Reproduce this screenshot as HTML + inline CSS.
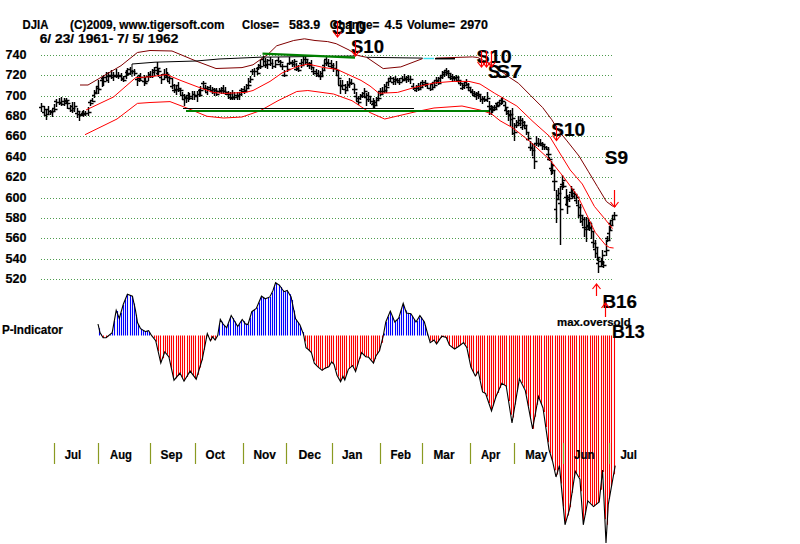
<!DOCTYPE html>
<html><head><meta charset="utf-8"><style>
html,body{margin:0;padding:0;background:#fff;}
svg{display:block;}
text{font-family:"Liberation Sans",sans-serif;font-weight:bold;fill:#000;stroke:#000;stroke-width:0.2px;}
.h{font-size:12px;}
.ax{font-size:13px;}
.sig{font-size:18px;}
.mo{font-size:11px;}
.mh{font-size:12.6px;}
</style></head><body>
<svg width="800" height="544" viewBox="0 0 800 544">
<rect width="800" height="544" fill="#fff"/>
<line x1="41" y1="55.5" x2="614" y2="55.5" stroke="#4f9c4f" stroke-width="1" stroke-dasharray="1 2"/>
<text x="5.5" y="59.2" class="ax" lengthAdjust="spacingAndGlyphs" textLength="21">740</text>
<line x1="41" y1="75.5" x2="614" y2="75.5" stroke="#4f9c4f" stroke-width="1" stroke-dasharray="1 2"/>
<text x="5.5" y="79.2" class="ax" lengthAdjust="spacingAndGlyphs" textLength="21">720</text>
<line x1="41" y1="96.5" x2="614" y2="96.5" stroke="#4f9c4f" stroke-width="1" stroke-dasharray="1 2"/>
<text x="5.5" y="100.2" class="ax" lengthAdjust="spacingAndGlyphs" textLength="21">700</text>
<line x1="41" y1="116.5" x2="614" y2="116.5" stroke="#4f9c4f" stroke-width="1" stroke-dasharray="1 2"/>
<text x="5.5" y="120.2" class="ax" lengthAdjust="spacingAndGlyphs" textLength="21">680</text>
<line x1="41" y1="136.5" x2="614" y2="136.5" stroke="#4f9c4f" stroke-width="1" stroke-dasharray="1 2"/>
<text x="5.5" y="140.2" class="ax" lengthAdjust="spacingAndGlyphs" textLength="21">660</text>
<line x1="41" y1="157.5" x2="614" y2="157.5" stroke="#4f9c4f" stroke-width="1" stroke-dasharray="1 2"/>
<text x="5.5" y="161.2" class="ax" lengthAdjust="spacingAndGlyphs" textLength="21">640</text>
<line x1="41" y1="177.5" x2="614" y2="177.5" stroke="#4f9c4f" stroke-width="1" stroke-dasharray="1 2"/>
<text x="5.5" y="181.2" class="ax" lengthAdjust="spacingAndGlyphs" textLength="21">620</text>
<line x1="41" y1="198.5" x2="614" y2="198.5" stroke="#4f9c4f" stroke-width="1" stroke-dasharray="1 2"/>
<text x="5.5" y="202.2" class="ax" lengthAdjust="spacingAndGlyphs" textLength="21">600</text>
<line x1="41" y1="218.5" x2="614" y2="218.5" stroke="#4f9c4f" stroke-width="1" stroke-dasharray="1 2"/>
<text x="5.5" y="222.2" class="ax" lengthAdjust="spacingAndGlyphs" textLength="21">580</text>
<line x1="41" y1="238.5" x2="614" y2="238.5" stroke="#4f9c4f" stroke-width="1" stroke-dasharray="1 2"/>
<text x="5.5" y="242.2" class="ax" lengthAdjust="spacingAndGlyphs" textLength="21">560</text>
<line x1="41" y1="259.5" x2="614" y2="259.5" stroke="#4f9c4f" stroke-width="1" stroke-dasharray="1 2"/>
<text x="5.5" y="263.2" class="ax" lengthAdjust="spacingAndGlyphs" textLength="21">540</text>
<line x1="41" y1="279.5" x2="614" y2="279.5" stroke="#4f9c4f" stroke-width="1" stroke-dasharray="1 2"/>
<text x="5.5" y="283.2" class="ax" lengthAdjust="spacingAndGlyphs" textLength="21">520</text>
<path d="M41.5 103V112M39 107.5h2.5M42 106.5h2.5M44.5 106V116M42 112.5h2.5M45 109.5h2.5M46.5 109V120M44 115.5h2.5M47 114.5h2.5M48.5 106V115M46 109.5h2.5M49 111.5h2.5M50.5 110V115M48 111.5h2.5M51 112.5h2.5M52.5 109V117M50 111.5h2.5M53 111.5h2.5M54.5 104V112M52 108.5h2.5M55 109.5h2.5M56.5 99V107M54 101.5h2.5M57 102.5h2.5M59.5 98V105M57 102.5h2.5M60 103.5h2.5M61.5 97V106M59 102.5h2.5M62 101.5h2.5M64.5 98V106M62 104.5h2.5M65 100.5h2.5M66.5 98V103M64 101.5h2.5M67 100.5h2.5M67.5 100V109M65 103.5h2.5M68 103.5h2.5M70.5 105V112M68 108.5h2.5M71 110.5h2.5M72.5 102V113M70 106.5h2.5M73 108.5h2.5M74.5 102V112M72 108.5h2.5M75 106.5h2.5M77.5 108V118M75 113.5h2.5M78 111.5h2.5M79.5 111V121M77 114.5h2.5M80 115.5h2.5M82.5 111V116M80 114.5h2.5M83 113.5h2.5M83.5 110V117M81 113.5h2.5M84 114.5h2.5M85.5 111V116M83 113.5h2.5M86 113.5h2.5M88.5 107V116M86 113.5h2.5M89 112.5h2.5M90.5 100V106M88 102.5h2.5M91 103.5h2.5M92.5 98V102M90 100.5h2.5M93 101.5h2.5M94.5 90V98M92 95.5h2.5M95 93.5h2.5M96.5 86V94M94 92.5h2.5M97 88.5h2.5M98.5 80V94M96 86.5h2.5M99 89.5h2.5M102.5 76V87M100 80.5h2.5M103 81.5h2.5M103.5 75V86M101 78.5h2.5M104 81.5h2.5M106.5 72V80M104 77.5h2.5M107 76.5h2.5M108.5 72V83M106 80.5h2.5M109 76.5h2.5M111.5 70V79M109 75.5h2.5M112 75.5h2.5M113.5 72V81M111 77.5h2.5M114 76.5h2.5M116.5 69V78M114 75.5h2.5M117 76.5h2.5M118.5 72V79M116 75.5h2.5M119 76.5h2.5M121.5 73V81M119 75.5h2.5M122 78.5h2.5M123.5 76V82M121 79.5h2.5M124 80.5h2.5M126.5 70V79M124 76.5h2.5M127 74.5h2.5M127.5 68V76M125 72.5h2.5M128 73.5h2.5M130.5 67V75M128 69.5h2.5M131 71.5h2.5M132.5 70V74M130 71.5h2.5M133 71.5h2.5M134.5 69V76M132 71.5h2.5M135 73.5h2.5M137.5 76V86M135 79.5h2.5M138 80.5h2.5M139.5 75V82M137 78.5h2.5M140 80.5h2.5M140.5 73V81M138 75.5h2.5M141 77.5h2.5M144.5 75V86M142 81.5h2.5M145 83.5h2.5M145.5 77V83M143 81.5h2.5M146 81.5h2.5M148.5 72V81M146 76.5h2.5M149 76.5h2.5M150.5 71V78M148 74.5h2.5M151 76.5h2.5M152.5 69V78M150 76.5h2.5M153 72.5h2.5M154.5 67V76M152 70.5h2.5M155 70.5h2.5M157.5 62V75M155 67.5h2.5M158 68.5h2.5M158.5 68V77M156 73.5h2.5M159 71.5h2.5M161.5 74V84M159 77.5h2.5M162 79.5h2.5M164.5 69V80M162 74.5h2.5M165 75.5h2.5M166.5 68V78M164 75.5h2.5M167 74.5h2.5M167.5 72V81M165 77.5h2.5M168 77.5h2.5M169.5 76V84M167 81.5h2.5M170 78.5h2.5M172.5 78V89M170 86.5h2.5M173 85.5h2.5M174.5 84V93M172 90.5h2.5M175 90.5h2.5M176.5 85V95M174 89.5h2.5M177 89.5h2.5M178.5 82V92M176 85.5h2.5M179 88.5h2.5M180.5 88V95M178 90.5h2.5M181 90.5h2.5M182.5 92V100M180 95.5h2.5M183 95.5h2.5M184.5 94V106M182 99.5h2.5M185 97.5h2.5M186.5 96V103M184 98.5h2.5M187 98.5h2.5M188.5 92V102M186 95.5h2.5M189 96.5h2.5M189.5 93V100M187 95.5h2.5M190 98.5h2.5M192.5 91V100M190 96.5h2.5M193 94.5h2.5M194.5 91V100M192 94.5h2.5M195 95.5h2.5M197.5 91V102M195 96.5h2.5M198 94.5h2.5M199.5 89V97M197 94.5h2.5M200 95.5h2.5M200.5 86V95M198 90.5h2.5M201 90.5h2.5M203.5 81V89M201 83.5h2.5M204 83.5h2.5M205.5 85V92M203 88.5h2.5M206 88.5h2.5M207.5 86V95M205 92.5h2.5M208 89.5h2.5M210.5 85V92M208 87.5h2.5M211 90.5h2.5M212.5 87V94M210 91.5h2.5M213 89.5h2.5M214.5 88V96M212 92.5h2.5M215 90.5h2.5M216.5 88V96M214 92.5h2.5M217 94.5h2.5M219.5 88V93M217 91.5h2.5M220 91.5h2.5M221.5 87V94M219 90.5h2.5M222 90.5h2.5M223.5 85V94M221 88.5h2.5M224 91.5h2.5M225.5 87V95M223 91.5h2.5M226 92.5h2.5M228.5 91V99M226 94.5h2.5M229 94.5h2.5M230.5 92V100M228 97.5h2.5M231 98.5h2.5M232.5 90V100M230 97.5h2.5M233 97.5h2.5M234.5 92V100M232 97.5h2.5M235 97.5h2.5M237.5 92V100M235 95.5h2.5M238 96.5h2.5M239.5 92V100M237 95.5h2.5M240 94.5h2.5M241.5 88V96M239 90.5h2.5M242 91.5h2.5M244.5 86V94M242 89.5h2.5M245 91.5h2.5M246.5 84V92M244 90.5h2.5M247 88.5h2.5M248.5 78V88M246 85.5h2.5M249 85.5h2.5M250.5 76V83M248 81.5h2.5M251 79.5h2.5M252.5 69V75M250 71.5h2.5M253 71.5h2.5M254.5 68V77M252 71.5h2.5M255 71.5h2.5M257.5 67V75M255 71.5h2.5M258 73.5h2.5M258.5 64V70M256 68.5h2.5M259 67.5h2.5M260.5 60V69M258 65.5h2.5M261 66.5h2.5M263.5 56V65M261 59.5h2.5M264 61.5h2.5M265.5 58V68M263 65.5h2.5M266 64.5h2.5M267.5 59V69M265 65.5h2.5M268 64.5h2.5M270.5 57V66M268 60.5h2.5M271 63.5h2.5M272.5 59V69M270 63.5h2.5M273 66.5h2.5M275.5 60V68M273 66.5h2.5M276 64.5h2.5M278.5 57V63M276 60.5h2.5M279 61.5h2.5M280.5 60V67M278 64.5h2.5M281 62.5h2.5M282.5 64V70M280 66.5h2.5M283 66.5h2.5M284.5 70V77M282 75.5h2.5M285 75.5h2.5M287.5 63V72M285 66.5h2.5M288 69.5h2.5M289.5 57V65M287 63.5h2.5M290 62.5h2.5M292.5 60V67M290 63.5h2.5M293 64.5h2.5M294.5 59V67M292 62.5h2.5M295 61.5h2.5M296.5 63V71M294 69.5h2.5M297 68.5h2.5M298.5 65V72M296 69.5h2.5M299 70.5h2.5M301.5 59V68M299 63.5h2.5M302 65.5h2.5M303.5 56V65M301 62.5h2.5M304 59.5h2.5M305.5 56V64M303 59.5h2.5M306 59.5h2.5M307.5 59V67M305 62.5h2.5M308 63.5h2.5M309.5 62V69M307 65.5h2.5M310 65.5h2.5M311.5 60V70M309 63.5h2.5M312 67.5h2.5M313.5 68V75M311 71.5h2.5M314 71.5h2.5M316.5 69V77M314 73.5h2.5M317 75.5h2.5M318.5 70V77M316 73.5h2.5M319 75.5h2.5M320.5 71V80M318 76.5h2.5M321 76.5h2.5M322.5 68V77M320 73.5h2.5M323 70.5h2.5M324.5 60V70M322 65.5h2.5M325 63.5h2.5M326.5 57V66M324 59.5h2.5M327 63.5h2.5M328.5 59V67M326 62.5h2.5M329 63.5h2.5M331.5 60V69M329 66.5h2.5M332 65.5h2.5M333.5 63V72M331 67.5h2.5M334 68.5h2.5M336.5 61V75M334 68.5h2.5M337 70.5h2.5M338.5 70V85M336 75.5h2.5M339 78.5h2.5M340.5 80V94M338 85.5h2.5M341 85.5h2.5M342.5 80V90M340 86.5h2.5M343 85.5h2.5M345.5 84V94M343 89.5h2.5M346 90.5h2.5M347.5 81V90M345 87.5h2.5M348 85.5h2.5M349.5 78V88M347 84.5h2.5M350 83.5h2.5M351.5 79V85M349 82.5h2.5M352 83.5h2.5M354.5 84V94M352 89.5h2.5M355 89.5h2.5M356.5 92V101M354 96.5h2.5M357 98.5h2.5M358.5 96V105M356 101.5h2.5M359 102.5h2.5M360.5 94V100M358 98.5h2.5M361 96.5h2.5M362.5 92V98M360 95.5h2.5M363 96.5h2.5M364.5 88V96M362 93.5h2.5M365 91.5h2.5M366.5 93V106M364 97.5h2.5M367 99.5h2.5M368.5 92V102M366 95.5h2.5M369 96.5h2.5M370.5 97V104M368 99.5h2.5M371 101.5h2.5M373.5 98V108M371 104.5h2.5M374 105.5h2.5M374.5 100V109M372 103.5h2.5M375 105.5h2.5M376.5 97V106M374 102.5h2.5M377 100.5h2.5M378.5 92V100M376 98.5h2.5M379 98.5h2.5M380.5 88V96M378 91.5h2.5M381 94.5h2.5M382.5 87V95M380 91.5h2.5M383 91.5h2.5M384.5 84V93M382 91.5h2.5M385 90.5h2.5M386.5 82V93M384 86.5h2.5M387 87.5h2.5M388.5 78V86M386 82.5h2.5M389 81.5h2.5M390.5 76V82M388 78.5h2.5M391 78.5h2.5M393.5 77V85M391 82.5h2.5M394 79.5h2.5M395.5 76V85M393 81.5h2.5M396 80.5h2.5M397.5 78V83M395 79.5h2.5M398 80.5h2.5M399.5 78V85M397 82.5h2.5M400 82.5h2.5M402.5 76V82M400 78.5h2.5M403 80.5h2.5M404.5 74V81M402 79.5h2.5M405 79.5h2.5M406.5 76V83M404 78.5h2.5M407 79.5h2.5M408.5 75V82M406 77.5h2.5M409 79.5h2.5M410.5 76V84M408 79.5h2.5M411 79.5h2.5M413.5 83V90M411 86.5h2.5M414 88.5h2.5M416.5 85V92M414 90.5h2.5M417 88.5h2.5M418.5 83V91M416 86.5h2.5M419 89.5h2.5M420.5 83V89M418 86.5h2.5M421 87.5h2.5M422.5 80V88M420 82.5h2.5M423 82.5h2.5M425.5 80V87M423 84.5h2.5M426 83.5h2.5M427.5 84V89M425 85.5h2.5M428 88.5h2.5M430.5 85V91M428 88.5h2.5M431 89.5h2.5M432.5 82V90M430 84.5h2.5M433 87.5h2.5M434.5 80V88M432 82.5h2.5M435 85.5h2.5M436.5 77V84M434 80.5h2.5M437 80.5h2.5M438.5 77V85M436 81.5h2.5M439 83.5h2.5M440.5 75V82M438 78.5h2.5M441 77.5h2.5M442.5 71V79M440 75.5h2.5M443 74.5h2.5M444.5 70V77M442 72.5h2.5M445 72.5h2.5M446.5 68V76M444 70.5h2.5M447 71.5h2.5M448.5 70V78M446 73.5h2.5M449 73.5h2.5M450.5 73V80M448 77.5h2.5M451 76.5h2.5M452.5 74V82M450 78.5h2.5M453 77.5h2.5M454.5 76V81M452 78.5h2.5M455 77.5h2.5M456.5 75V82M454 78.5h2.5M457 77.5h2.5M458.5 76V83M456 80.5h2.5M459 80.5h2.5M460.5 81V86M458 83.5h2.5M461 83.5h2.5M462.5 83V90M460 88.5h2.5M463 85.5h2.5M464.5 82V89M462 87.5h2.5M465 85.5h2.5M466.5 79V86M464 82.5h2.5M467 84.5h2.5M468.5 83V91M466 87.5h2.5M469 87.5h2.5M470.5 87V92M468 90.5h2.5M471 91.5h2.5M472.5 89V95M470 92.5h2.5M473 93.5h2.5M474.5 91V97M472 95.5h2.5M475 94.5h2.5M476.5 92V100M474 96.5h2.5M477 95.5h2.5M478.5 91V99M476 93.5h2.5M479 94.5h2.5M480.5 94V102M478 96.5h2.5M481 99.5h2.5M482.5 96V104M480 99.5h2.5M483 99.5h2.5M484.5 96V102M482 98.5h2.5M485 100.5h2.5M487.5 92V102M485 99.5h2.5M488 98.5h2.5M489.5 101V115M487 106.5h2.5M490 106.5h2.5M491.5 105V115M489 109.5h2.5M492 110.5h2.5M492.5 106V113M490 108.5h2.5M493 109.5h2.5M494.5 105V111M492 107.5h2.5M495 109.5h2.5M496.5 103V109M494 107.5h2.5M497 106.5h2.5M497.5 102V106M495 103.5h2.5M498 105.5h2.5M499.5 100V106M497 102.5h2.5M500 103.5h2.5M501.5 98V105M499 100.5h2.5M502 101.5h2.5M502.5 97V104M500 100.5h2.5M503 101.5h2.5M505.5 102V111M503 105.5h2.5M506 107.5h2.5M506.5 108V115M504 110.5h2.5M507 111.5h2.5M508.5 110V121M506 113.5h2.5M509 115.5h2.5M510.5 110V126M508 114.5h2.5M511 114.5h2.5M512.5 108V135M510 119.5h2.5M513 118.5h2.5M514.5 123V141M512 133.5h2.5M515 132.5h2.5M516.5 120V128M514 125.5h2.5M517 125.5h2.5M518.5 116V126M516 122.5h2.5M519 123.5h2.5M520.5 116V126M518 120.5h2.5M521 120.5h2.5M522.5 118V130M520 127.5h2.5M523 122.5h2.5M524.5 121V128M522 125.5h2.5M525 125.5h2.5M526.5 126V135M524 128.5h2.5M527 132.5h2.5M528.5 133V141M526 139.5h2.5M529 138.5h2.5M530.5 141V151M528 147.5h2.5M531 148.5h2.5M532.5 143V156M530 147.5h2.5M533 150.5h2.5M534.5 144V169M532 157.5h2.5M535 161.5h2.5M536.5 136V146M534 143.5h2.5M537 143.5h2.5M538.5 138V147M536 143.5h2.5M539 144.5h2.5M540.5 139V146M538 143.5h2.5M541 143.5h2.5M542.5 142V150M540 145.5h2.5M543 144.5h2.5M544.5 144V150M542 146.5h2.5M545 147.5h2.5M546.5 146V150M544 147.5h2.5M547 149.5h2.5M548.5 147V160M546 154.5h2.5M549 154.5h2.5M549.5 157V161M547 159.5h2.5M550 159.5h2.5M551.5 161V175M549 168.5h2.5M552 165.5h2.5M552.5 164V174M550 170.5h2.5M553 170.5h2.5M554.5 171V191M552 181.5h2.5M555 181.5h2.5M556.5 190V223M554 209.5h2.5M557 199.5h2.5M558.5 188V200M556 195.5h2.5M559 193.5h2.5M560.5 186V245M558 203.5h2.5M561 209.5h2.5M562.5 175V190M560 184.5h2.5M563 180.5h2.5M563.5 182V188M561 186.5h2.5M564 186.5h2.5M566.5 189V206M564 197.5h2.5M567 197.5h2.5M567.5 195V214M565 204.5h2.5M568 206.5h2.5M569.5 194V202M567 199.5h2.5M570 198.5h2.5M571.5 186V197M569 192.5h2.5M572 189.5h2.5M572.5 189V199M570 192.5h2.5M573 193.5h2.5M574.5 191V199M572 196.5h2.5M575 194.5h2.5M576.5 195V204M574 200.5h2.5M577 197.5h2.5M578.5 200V218M576 205.5h2.5M579 207.5h2.5M580.5 204V223M578 215.5h2.5M581 215.5h2.5M582.5 215V226M580 221.5h2.5M583 219.5h2.5M584.5 217V237M582 227.5h2.5M585 227.5h2.5M586.5 217V242M584 229.5h2.5M587 225.5h2.5M588.5 218V229M586 226.5h2.5M589 222.5h2.5M589.5 222V231M587 229.5h2.5M590 228.5h2.5M591.5 223V239M589 227.5h2.5M592 231.5h2.5M593.5 231V248M591 242.5h2.5M594 243.5h2.5M595.5 240V258M593 249.5h2.5M596 247.5h2.5M597.5 248V261M595 253.5h2.5M598 257.5h2.5M598.5 258V273M596 263.5h2.5M599 266.5h2.5M601.5 258V266M599 261.5h2.5M602 262.5h2.5M602.5 250V265M600 261.5h2.5M603 255.5h2.5M603.5 261V268M601 266.5h2.5M604 265.5h2.5M606.5 240V256M604 251.5h2.5M607 250.5h2.5M607.5 236V242M605 238.5h2.5M608 240.5h2.5M609.5 226V240M607 233.5h2.5M610 230.5h2.5M610.5 220V231M608 223.5h2.5M611 225.5h2.5M612.5 215V225M610 220.5h2.5M613 219.5h2.5M614.5 212V220M612 215.5h2.5M615 215.5h2.5" stroke="#000" stroke-width="1.45" fill="none"/>
<path d="M99.5 335.5V328.3M101.5 335.5V334.6M110.5 335.5V334.5M112.5 335.5V332.7M114.5 335.5V320.9M117.5 335.5V311.1M119.5 335.5V316.9M121.5 335.5V312.8M123.5 335.5V305.0M125.5 335.5V299.4M127.5 335.5V294.2M130.5 335.5V295.1M132.5 335.5V296.0M134.5 335.5V303.6M136.5 335.5V314.8M138.5 335.5V324.4M141.5 335.5V328.7M143.5 335.5V330.0M145.5 335.5V331.2M147.5 335.5V331.1M149.5 335.5V331.9M152.5 335.5V335.5M219.5 335.5V324.7M222.5 335.5V321.7M224.5 335.5V324.9M226.5 335.5V327.1M228.5 335.5V323.7M230.5 335.5V317.7M233.5 335.5V317.9M235.5 335.5V321.6M237.5 335.5V325.3M239.5 335.5V324.2M241.5 335.5V320.7M244.5 335.5V321.3M246.5 335.5V324.0M248.5 335.5V324.5M250.5 335.5V317.4M252.5 335.5V311.3M254.5 335.5V309.8M257.5 335.5V307.6M259.5 335.5V302.4M261.5 335.5V297.2M263.5 335.5V297.4M265.5 335.5V298.7M268.5 335.5V297.8M270.5 335.5V296.9M272.5 335.5V292.4M274.5 335.5V286.8M276.5 335.5V283.2M279.5 335.5V284.7M281.5 335.5V287.1M283.5 335.5V290.2M285.5 335.5V291.2M287.5 335.5V290.6M290.5 335.5V294.3M292.5 335.5V299.9M294.5 335.5V310.5M296.5 335.5V319.5M298.5 335.5V322.6M300.5 335.5V326.3M303.5 335.5V332.1M384.5 335.5V333.5M386.5 335.5V321.8M388.5 335.5V316.5M390.5 335.5V311.2M392.5 335.5V316.3M395.5 335.5V321.6M397.5 335.5V320.0M399.5 335.5V317.1M401.5 335.5V309.9M403.5 335.5V304.0M406.5 335.5V310.6M408.5 335.5V313.2M410.5 335.5V313.6M412.5 335.5V315.8M414.5 335.5V319.3M417.5 335.5V321.1M419.5 335.5V317.5M421.5 335.5V317.1M423.5 335.5V320.2M425.5 335.5V325.3M427.5 335.5V333.2" stroke="#0000ff" stroke-width="1.1"/>
<path d="M103.5 335.5V337.7M106.5 335.5V337.7M108.5 335.5V336.3M154.5 335.5V338.3M156.5 335.5V341.7M158.5 335.5V351.3M160.5 335.5V360.9M163.5 335.5V358.3M165.5 335.5V352.2M167.5 335.5V354.4M169.5 335.5V357.7M171.5 335.5V367.7M173.5 335.5V377.7M176.5 335.5V378.2M178.5 335.5V375.7M180.5 335.5V373.2M182.5 335.5V377.6M184.5 335.5V380.5M187.5 335.5V376.9M189.5 335.5V373.3M191.5 335.5V372.3M193.5 335.5V375.2M195.5 335.5V378.1M198.5 335.5V374.7M200.5 335.5V367.5M202.5 335.5V360.2M204.5 335.5V349.8M206.5 335.5V338.6M208.5 335.5V336.3M211.5 335.5V340.2M213.5 335.5V337.2M215.5 335.5V340.0M217.5 335.5V336.3M305.5 335.5V341.5M307.5 335.5V348.5M309.5 335.5V350.4M311.5 335.5V352.8M314.5 335.5V360.8M316.5 335.5V364.7M318.5 335.5V366.9M320.5 335.5V368.8M322.5 335.5V370.2M325.5 335.5V368.6M327.5 335.5V367.6M329.5 335.5V366.4M331.5 335.5V362.9M333.5 335.5V363.7M336.5 335.5V369.9M338.5 335.5V376.5M340.5 335.5V380.5M342.5 335.5V378.4M344.5 335.5V379.0M346.5 335.5V375.0M349.5 335.5V369.0M351.5 335.5V367.1M353.5 335.5V366.5M355.5 335.5V370.9M357.5 335.5V365.6M360.5 335.5V358.4M362.5 335.5V352.8M364.5 335.5V355.0M366.5 335.5V356.8M368.5 335.5V357.2M371.5 335.5V359.6M373.5 335.5V362.3M375.5 335.5V358.9M377.5 335.5V354.2M379.5 335.5V351.0M382.5 335.5V342.8M430.5 335.5V340.8M432.5 335.5V341.5M434.5 335.5V340.1M436.5 335.5V343.4M438.5 335.5V341.2M441.5 335.5V337.9M443.5 335.5V336.5M445.5 335.5V337.1M447.5 335.5V339.7M449.5 335.5V345.0M452.5 335.5V346.8M454.5 335.5V348.4M456.5 335.5V348.1M458.5 335.5V346.7M460.5 335.5V345.1M463.5 335.5V343.4M465.5 335.5V344.3M467.5 335.5V347.9M469.5 335.5V358.4M471.5 335.5V367.8M473.5 335.5V372.3M476.5 335.5V375.4M478.5 335.5V372.0M480.5 335.5V380.2M482.5 335.5V390.4M484.5 335.5V392.9M487.5 335.5V396.6M489.5 335.5V403.1M491.5 335.5V409.5M493.5 335.5V405.5M495.5 335.5V398.5M498.5 335.5V392.9M500.5 335.5V387.9M502.5 335.5V383.3M504.5 335.5V384.7M506.5 335.5V386.9M509.5 335.5V400.9M511.5 335.5V414.8M513.5 335.5V417.6M515.5 335.5V404.5M517.5 335.5V391.4M519.5 335.5V379.0M522.5 335.5V383.3M524.5 335.5V387.7M526.5 335.5V394.5M528.5 335.5V406.0M530.5 335.5V417.4M533.5 335.5V428.7M535.5 335.5V416.7M537.5 335.5V404.7M539.5 335.5V398.3M541.5 335.5V403.9M544.5 335.5V412.0M546.5 335.5V427.1M548.5 335.5V442.3M550.5 335.5V453.3M552.5 335.5V460.4M555.5 335.5V470.2M557.5 335.5V474.6M559.5 335.5V467.3M561.5 335.5V483.5M563.5 335.5V506.6M565.5 335.5V523.2M568.5 335.5V515.5M570.5 335.5V507.2M572.5 335.5V492.7M574.5 335.5V478.3M576.5 335.5V473.2M579.5 335.5V477.0M581.5 335.5V491.3M583.5 335.5V520.6M585.5 335.5V514.8M587.5 335.5V503.2M590.5 335.5V502.7M592.5 335.5V504.9M594.5 335.5V506.2M596.5 335.5V504.5M598.5 335.5V502.7M601.5 335.5V489.7M603.5 335.5V472.1M605.5 335.5V519.2M607.5 335.5V524.8M609.5 335.5V498.9M611.5 335.5V486.6M614.5 335.5V474.3" stroke="#ff0000" stroke-width="1.1"/>
<polyline points="98.0,324.0 98.5,326.2 100.0,332.6 103.1,337.7 106.1,337.7 112.2,332.6 116.2,310.4 119.3,318.5 123.3,304.3 127.4,294.2 132.4,296.2 135.5,310.4 137.5,322.5 140.5,328.6 145.6,331.6 148.6,330.6 151.7,335.7 155.7,340.7 160.8,363.0 164.8,351.9 168.9,356.9 174.0,380.2 180.0,373.1 184.0,381.2 190.1,371.1 196.2,379.2 202.3,359.0 207.3,333.6 210.4,340.7 212.6,336.8 215.1,340.0 217.7,335.5 220.3,319.4 222.9,323.9 226.7,327.8 231.2,315.5 237.7,326.5 242.2,319.4 245.4,323.9 248.0,324.5 251.8,311.7 256.3,308.5 261.5,296.2 265.3,298.8 269.8,296.9 273.0,290.4 275.6,282.7 279.5,285.3 284.0,291.7 287.2,290.4 291.1,296.9 295.6,318.8 300.0,325.0 303.6,334.6 306.0,347.7 308.4,349.5 311.4,352.5 314.3,363.2 317.9,366.8 322.1,370.4 324.5,368.6 328.7,366.8 331.7,362.0 334.0,364.4 337.0,375.2 340.6,381.8 343.0,376.4 344.8,380.0 348.4,369.2 352.6,365.6 355.6,371.6 359.2,359.7 361.6,352.5 365.7,356.7 368.7,357.3 373.5,363.2 375.9,356.0 379.5,350.7 383.2,336.2 385.8,322.0 390.3,311.1 394.8,322.0 398.7,318.2 403.2,303.4 406.4,313.0 410.9,313.7 416.0,322.0 419.9,315.6 424.4,322.0 427.6,333.6 430.2,342.6 434.0,340.0 436.6,343.9 441.8,336.2 446.3,337.5 449.5,345.2 454.6,349.0 458.5,346.5 463.6,342.6 466.9,347.8 470.9,367.0 475.3,376.0 478.2,371.5 482.6,392.0 485.6,393.5 491.5,411.0 496.0,396.5 501.8,383.2 506.2,386.0 512.0,423.0 519.4,378.8 525.3,390.6 532.6,428.8 538.5,396.5 543.0,408.0 549.0,449.6 552.5,461.0 556.0,477.0 559.4,465.6 565.0,524.8 569.6,508.8 575.3,471.3 579.9,479.2 583.3,524.8 587.8,500.9 593.5,506.6 599.2,502.0 602.6,470.0 606.0,543.0 608.3,504.3 615.2,465.6" fill="none" stroke="#000" stroke-width="1.1"/>
<line x1="54.5" y1="443" x2="54.5" y2="464" stroke="#8a9a22" stroke-width="1.2"/>
<line x1="98.5" y1="443" x2="98.5" y2="464" stroke="#8a9a22" stroke-width="1.2"/>
<line x1="150.5" y1="443" x2="150.5" y2="464" stroke="#8a9a22" stroke-width="1.2"/>
<line x1="195.5" y1="443" x2="195.5" y2="464" stroke="#8a9a22" stroke-width="1.2"/>
<line x1="243.5" y1="443" x2="243.5" y2="464" stroke="#8a9a22" stroke-width="1.2"/>
<line x1="286.5" y1="443" x2="286.5" y2="464" stroke="#8a9a22" stroke-width="1.2"/>
<line x1="332.5" y1="443" x2="332.5" y2="464" stroke="#8a9a22" stroke-width="1.2"/>
<line x1="380.5" y1="443" x2="380.5" y2="464" stroke="#8a9a22" stroke-width="1.2"/>
<line x1="422.5" y1="443" x2="422.5" y2="464" stroke="#8a9a22" stroke-width="1.2"/>
<line x1="470.5" y1="443" x2="470.5" y2="464" stroke="#8a9a22" stroke-width="1.2"/>
<line x1="514.5" y1="443" x2="514.5" y2="464" stroke="#8a9a22" stroke-width="1.2"/>
<line x1="563.5" y1="443" x2="563.5" y2="464" stroke="#8a9a22" stroke-width="1.2"/>
<line x1="609.5" y1="443" x2="609.5" y2="464" stroke="#8a9a22" stroke-width="1.2"/>
<polyline points="80.0,85.0 88.0,85.0 121.0,65.7 137.4,52.5 150.0,50.5 172.0,51.0 196.0,61.0 216.0,68.5 242.0,67.6 253.0,64.8 262.0,58.4 267.6,54.7 276.7,45.8 293.7,40.5 304.4,38.8 315.0,40.5 327.7,41.6 336.2,43.7 349.0,50.0 357.5,55.4 366.6,57.3 383.2,68.6 400.8,66.9 422.6,58.6" fill="none" stroke="#800000" stroke-width="1"/>
<polyline points="435.8,58.1 472.5,56.9 477.8,57.5 494.0,66.0 509.4,77.3 518.5,83.3 530.6,95.5 542.7,107.6 551.8,119.7 557.9,129.8 567.0,140.9 579.0,156.0 588.2,171.2 597.3,186.4 606.4,201.5 612.4,206.0 615.7,206.4" fill="none" stroke="#800000" stroke-width="1"/>
<line x1="366.6" y1="57.3" x2="422.6" y2="58.1" stroke="#000" stroke-width="1"/>
<line x1="423.5" y1="58.5" x2="434" y2="58.5" stroke="#40e0f0" stroke-width="1.5"/>
<line x1="435" y1="58.7" x2="455" y2="58.7" stroke="#000" stroke-width="1.5"/>
<polyline points="86.0,110.0 113.5,97.0 135.6,77.7 150.0,76.8 166.5,74.5 180.0,80.2 200.0,87.8 214.0,92.6 225.0,93.4 245.6,92.4 253.0,90.5 270.0,81.4 282.0,73.0 296.8,66.7 307.8,64.0 324.0,67.6 337.0,69.4 361.0,80.4 370.0,86.0 379.0,93.3 397.6,92.4 416.0,87.0 434.0,83.0 452.7,81.4 469.0,81.4 480.0,84.0 494.7,93.3 516.8,106.0 533.0,121.6 549.6,136.4 562.8,158.0 570.2,170.0 582.3,184.0 594.4,206.4 604.5,218.5 612.6,228.6" fill="none" stroke="#ff0000" stroke-width="1"/>
<polyline points="85.0,134.7 117.0,119.0 137.4,103.4 150.0,102.5 170.0,101.6 186.8,108.0 207.0,116.3 223.5,118.0 242.0,117.0 260.0,110.8 278.0,100.7 296.8,91.5 307.8,90.5 333.5,94.0 352.0,100.7 370.0,112.6 384.7,119.0 416.0,111.7 434.0,108.0 462.0,106.0 480.0,110.0 491.0,113.5 500.0,120.7 513.0,128.0 529.8,141.4 549.6,159.6 562.8,176.0 577.7,196.0 595.3,232.5 605.5,245.0 609.6,247.5 613.6,248.0" fill="none" stroke="#ff0000" stroke-width="1"/>
<polyline points="132.0,77.0 132.0,64.0 155.0,62.2 196.0,61.0 219.0,59.0 260.0,57.2 355.0,56.0" fill="none" stroke="#000" stroke-width="1"/>
<line x1="262.5" y1="53.6" x2="355" y2="57.6" stroke="#008000" stroke-width="2.2"/>
<rect x="186" y="110" width="303" height="2" fill="#008000"/>
<rect x="183" y="108" width="231" height="1" fill="#000"/>
<text x="22.6" y="28.6" class="h" lengthAdjust="spacingAndGlyphs" textLength="25.8">DJIA</text>
<text x="70" y="28.6" class="h" lengthAdjust="spacingAndGlyphs" textLength="154.5">(C)2009, www.tigersoft.com</text>
<text x="242.1" y="28.6" class="h" lengthAdjust="spacingAndGlyphs" textLength="36.9">Close=</text>
<text x="289" y="28.6" class="h" lengthAdjust="spacingAndGlyphs" textLength="31.3">583.9</text>
<text x="329.7" y="28.6" class="h" lengthAdjust="spacingAndGlyphs" textLength="49.7">Change=</text>
<text x="384.5" y="28.6" class="h" lengthAdjust="spacingAndGlyphs" textLength="18">4.5</text>
<text x="407" y="28.6" class="h" lengthAdjust="spacingAndGlyphs" textLength="48">Volume=</text>
<text x="460.25" y="28.6" class="h" lengthAdjust="spacingAndGlyphs" textLength="27.75">2970</text>
<text x="39.7" y="43" class="h" lengthAdjust="spacingAndGlyphs" textLength="138.7">6/ 23/ 1961- 7/ 5/ 1962</text>
<text x="64.75" y="459" class="mh" lengthAdjust="spacingAndGlyphs" textLength="16.5">Jul</text>
<text x="110" y="459" class="mh" lengthAdjust="spacingAndGlyphs" textLength="22">Aug</text>
<text x="160.5" y="459" class="mh" lengthAdjust="spacingAndGlyphs" textLength="22">Sep</text>
<text x="205.6" y="459" class="mh" lengthAdjust="spacingAndGlyphs" textLength="19.4">Oct</text>
<text x="253.5" y="459" class="mh" lengthAdjust="spacingAndGlyphs" textLength="22.5">Nov</text>
<text x="298.5" y="459" class="mh" lengthAdjust="spacingAndGlyphs" textLength="22.5">Dec</text>
<text x="342" y="459" class="mh" lengthAdjust="spacingAndGlyphs" textLength="20.4">Jan</text>
<text x="390.6" y="459" class="mh" lengthAdjust="spacingAndGlyphs" textLength="20.4">Feb</text>
<text x="433.5" y="459" class="mh" lengthAdjust="spacingAndGlyphs" textLength="21">Mar</text>
<text x="481" y="459" class="mh" lengthAdjust="spacingAndGlyphs" textLength="19.3">Apr</text>
<text x="525.3" y="459" class="mh" lengthAdjust="spacingAndGlyphs" textLength="22.1">May</text>
<text x="574" y="459" class="mh" lengthAdjust="spacingAndGlyphs" textLength="20.4">Jun</text>
<text x="620.4" y="459" class="mh" lengthAdjust="spacingAndGlyphs" textLength="16.6">Jul</text>
<text x="1.9" y="334" class="h" lengthAdjust="spacingAndGlyphs" textLength="61">P-Indicator</text>
<text x="332" y="34.1" class="sig" lengthAdjust="spacingAndGlyphs" textLength="34">S10</text>
<text x="351" y="52.8" class="sig" lengthAdjust="spacingAndGlyphs" textLength="33">S10</text>
<text x="476.6" y="62.75" class="sig" lengthAdjust="spacingAndGlyphs" textLength="35">S10</text>
<text x="488" y="78.2" class="sig">S</text>
<text x="496" y="78.2" class="sig" lengthAdjust="spacingAndGlyphs" textLength="26">S7</text>
<text x="551.2" y="135.6" class="sig" lengthAdjust="spacingAndGlyphs" textLength="34">S10</text>
<text x="604.7" y="163.75" class="sig" lengthAdjust="spacingAndGlyphs" textLength="23.3">S9</text>
<text x="602.5" y="308" class="sig" lengthAdjust="spacingAndGlyphs" textLength="34.5">B16</text>
<text x="557" y="325.5" class="mo" lengthAdjust="spacingAndGlyphs" textLength="73.6">max.oversold</text>
<text x="612" y="338" class="sig" lengthAdjust="spacingAndGlyphs" textLength="32.7">B13</text>
<path d="M337.5 21V37M333.5 32L337.5 37L341.5 32" stroke="#ff0000" stroke-width="1.2" fill="none"/>
<path d="M355.5 41V56M351.5 51L355.5 56L359.5 51" stroke="#ff0000" stroke-width="1.2" fill="none"/>
<path d="M481.5 51V67M477.5 62L481.5 67L485.5 62" stroke="#ff0000" stroke-width="1.2" fill="none"/>
<path d="M486.5 51V67M482.5 62L486.5 67L490.5 62" stroke="#ff0000" stroke-width="1.2" fill="none"/>
<path d="M491.5 51V67M487.5 62L491.5 67L495.5 62" stroke="#ff0000" stroke-width="1.2" fill="none"/>
<path d="M556.5 126V140.5M552.5 135.5L556.5 140.5L560.5 135.5" stroke="#ff0000" stroke-width="1.2" fill="none"/>
<path d="M614.5 190V207M610.5 202L614.5 207L618.5 202" stroke="#ff0000" stroke-width="1.2" fill="none"/>
<path d="M596.5 296V284M592.5 289L596.5 284L600.5 289" stroke="#ff0000" stroke-width="1.2" fill="none"/>
<path d="M605.5 317V303M601.5 308L605.5 303L609.5 308" stroke="#ff0000" stroke-width="1.2" fill="none"/>
</svg>
</body></html>
